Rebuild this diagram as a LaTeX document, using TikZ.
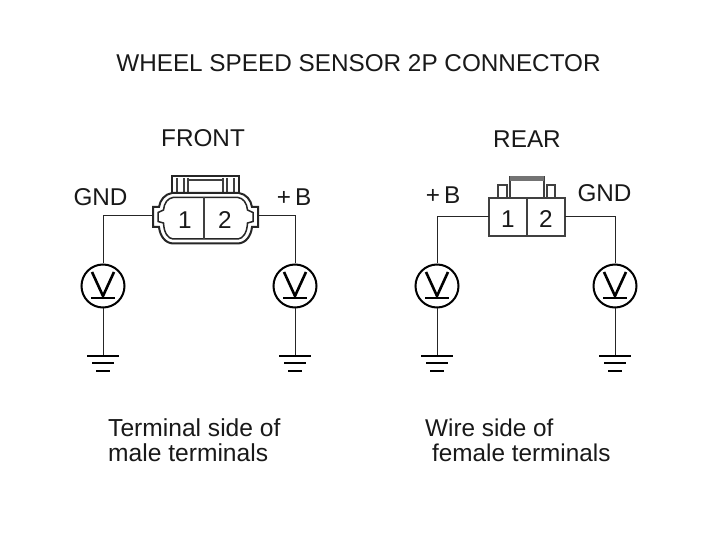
\documentclass[tikz,border=0pt]{standalone}
\usepackage{fontspec}
\setmainfont{Liberation Sans}
\usetikzlibrary{positioning}

\newcommand{\labelsize}{\fontsize{24.3}{26}\selectfont}

\begin{document}
\begin{tikzpicture}[x=1pt, y=-1pt, line join=miter, wire/.style={line width=1pt, draw=black!85}]
    \tikzstyle{every node}=[text=black!90, inner sep=0pt, font=\labelsize]
    \tikzstyle{meter}=[circle, draw=black, line width=2pt, minimum size=43pt]
    \tikzstyle{body}=[draw=black!85, line width=2pt]
    \tikzstyle{thin body}=[draw=black!75, line width=1.2pt]
    \tikzstyle{bar}=[draw=black, line width=2pt]

    \useasboundingbox (0,0) rectangle (726,534);
    \fill[white] (0,0) rectangle (726,534);

    % headings
    \node (title) at (358.5,63) {WHEEL SPEED SENSOR 2P CONNECTOR};
    \node (front) at (203,138) {FRONT};
    \node (rear)  at (527,139) {REAR};
    \node (gndl)  at (100.5,197) {GND};
    \node (bl)    at (294,197) {+\,B};
    \node (br)    at (443,195) {+\,B};
    \node (gndr)  at (604.5,193) {GND};

    % meters
    \node[meter] (m1) at (103,286) {};
    \node[meter] (m2) at (295,286) {};
    \node[meter] (m3) at (437,286) {};
    \node[meter] (m4) at (615,286) {};
    \foreach \m in {m1,m2,m3,m4} {
        \draw[bar, line width=2.6pt] ([shift={(-11,-14)}]\m.center) -- ([shift={(0,10)}]\m.center) -- ([shift={(11,-14)}]\m.center);
        \draw[bar, line width=2.8pt] ([shift={(-12,12)}]\m.center) -- ([shift={(12,12)}]\m.center);
        \coordinate (\m g) at ([shift={(0,70)}]\m.center);
        \draw[wire] (\m) -- (\m g);
        \draw[bar, line width=2.4pt] ([shift={(-16,0)}]\m g) -- ([shift={(16,0)}]\m g);
        \draw[bar, line width=1.8pt] ([shift={(-11,7)}]\m g) -- ([shift={(11,7)}]\m g);
        \draw[bar, line width=1.8pt] ([shift={(-7,15)}]\m g) -- ([shift={(7,15)}]\m g);
    }

    % front connector
    \coordinate (fl) at (153,216);
    \coordinate (fr) at (258,216);
    \draw[body] (172,176) rectangle (239,193);
    \draw[thin body] (177,178) -- (177,193) (184,178) -- (184,193) (188,178) -- (188,193)
        (223,178) -- (223,193) (227,178) -- (227,193) (234,178) -- (234,193) (188,180) -- (223,180);
    \draw[body] (172,193) -- (239,193) .. controls (246,194) and (251,200) .. (252,207) -- (258,207) -- (258,227)
        -- (252,227) .. controls (251,236) and (246,243) .. (238,243.5) -- (173,243.5)
        .. controls (165,243) and (160,236) .. (159,227) -- (153,227) -- (153,207) -- (159,207)
        .. controls (160,200) and (165,194) .. cycle;
    \draw[body, line width=1.5pt] (173,197.5) -- (238,197.5) .. controls (243,198) and (247,203) .. (247.5,210)
        -- (253,212.5) -- (253,221.5) -- (247.5,223) .. controls (247,233) and (243,238.5) .. (238,239)
        -- (173,239) .. controls (168,238.5) and (164,233) .. (163.5,223) -- (158,221.5) -- (158,212.5)
        -- (163.5,210) .. controls (164,203) and (168,198) .. cycle;
    \draw[thin body, line width=1.4pt] (204,197.5) -- (204,239);
    \node (f1) at (185,220.5) {1};
    \node (f2) at (225,220.5) {2};

    % rear connector
    \coordinate (rl) at (489,217);
    \coordinate (rr) at (565,217);
    \draw[thin body, line width=1.5pt] (489,198) rectangle (565,236);
    \draw[thin body, line width=1.5pt] (527,198) -- (527,236);
    \draw[thin body, line width=1.5pt] (510,198) -- (510,176.5) -- (544,176.5) -- (544,198);
    \fill[black!55] (510,176) rectangle (544,181);
    \draw[thin body] (498,198) -- (498,185) -- (507,185) -- (507,198);
    \draw[thin body] (547,198) -- (547,185) -- (555,185) -- (555,198);
    \node (r1) at (508,219) {1};
    \node (r2) at (546,219) {2};

    % wires
    \draw[wire] (m1) |- (fl);
    \draw[wire] (m2) |- (fr);
    \draw[wire] (m3) |- (rl);
    \draw[wire] (m4) |- (rr);

    % captions
    \node[align=left, anchor=north west, font=\fontsize{24.6}{25}\selectfont] (capl) at (108,418.5) {Terminal side of\\male terminals};
    \node[align=left, anchor=north west, font=\fontsize{24.3}{25}\selectfont] (capr) at (425,418.5) {Wire side of\\\hspace*{7pt}female terminals};
\end{tikzpicture}
\end{document}
